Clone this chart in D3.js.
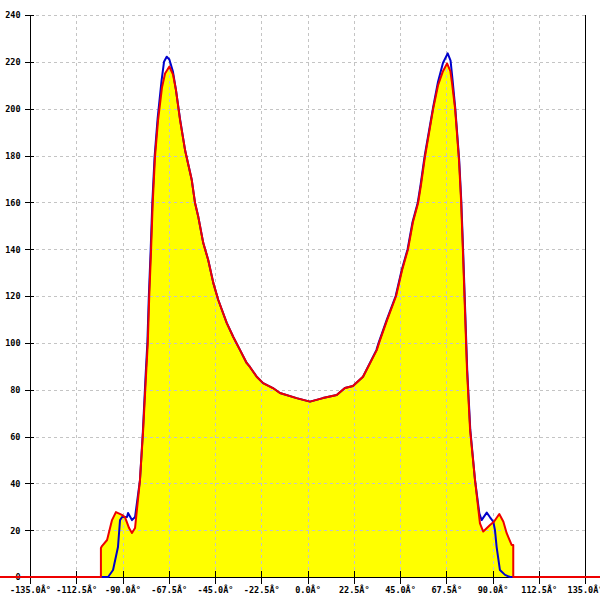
<!DOCTYPE html>
<html><head><meta charset="utf-8">
<script src="https://cdn.jsdelivr.net/npm/d3@7"></script>
<style>body{margin:0;background:#fff}svg{display:block}</style>
</head><body>
<script>
const xTickValues = [-135, -112.5, -90, -67.5, -45, -22.5, 0, 22.5, 45, 67.5, 90, 112.5, 135];
const xTickLabels = ["-135.0Â°","-112.5Â°","-90.0Â°","-67.5Â°","-45.0Â°","-22.5Â°","0.0Â°","22.5Â°","45.0Â°","67.5Â°","90.0Â°","112.5Â°","135.0Â°"];
const yTickValues = [0,20,40,60,80,100,120,140,160,180,200,220,240];

const redAngles = [-150,-100.5,-100.5,-100.0,-97.5,-95.1,-93.2,-90.3,-88.8,-86.8,-85.4,-83.9,-81.5,-80.0,-78.6,-77.7,-77.0,-76.1,-75.3,-74.2,-72.7,-70.8,-69.3,-67.2,-65.4,-64.0,-62.0,-59.5,-56.3,-54.7,-53.1,-50.7,-48.3,-45.8,-43.4,-39.3,-36.1,-32.8,-29.6,-28.0,-24.7,-21.6,-16.8,-13.4,-5.3,1.2,7.5,14.2,18.2,22.1,27.0,33.7,34.8,38.7,43.1,46.0,48.9,51.3,53.8,55.2,57.2,61.1,63.5,65.9,67.9,69.5,70.3,71.8,73.7,74.7,75.6,76.6,77.6,79.1,81.5,83.9,85.5,88.8,90.7,93.3,95.3,96.9,99.3,100.1,100.1,150];
const redValues = [0,0,12.4,13.2,15.8,24.3,27.7,26.5,25.6,20.9,18.8,20.9,41.4,62,85.4,100,119.6,139.6,159.7,179.3,195.1,209,215,218,214.5,208,195.1,182,169.5,159.7,153.7,142.6,135.4,125.5,118.3,108.5,102.5,96.9,91.4,89.7,85.5,82.8,80.7,78.6,76.4,74.9,76.4,77.7,80.7,81.6,85.5,96.9,100,109.7,120,131,140,151.6,159.7,167.4,179.8,199.8,210,216,219.3,216,211,200,178,161,139.6,114,88.4,62.8,41.4,22.9,19.4,22.2,23.6,26.9,23.6,18.7,13.7,13.7,0,0];

const blueAngles = [-150,-97.0,-94.6,-92.2,-91.2,-90.2,-87.8,-87.3,-85.4,-83.9,-81.5,-80.1,-78.8,-77.9,-77.2,-76.3,-75.5,-74.4,-72.9,-71.0,-69.8,-68.5,-67.2,-65.5,-64.0,-62.0,-59.5,-56.3,-54.7,-53.1,-50.7,-48.3,-45.8,-43.4,-39.3,-36.1,-32.8,-29.6,-28.0,-24.7,-21.6,-16.8,-13.4,-5.3,1.2,7.5,14.2,18.2,22.1,27.0,33.5,34.6,38.5,42.9,45.8,48.7,51.1,53.6,55.0,57.0,61.1,63.5,65.9,68.2,69.6,70.6,71.9,73.8,74.8,75.7,76.7,77.7,79.2,81.5,83.6,84.7,87.2,88.8,90.4,91.2,92.0,93.6,96.1,98.5,150];
const blueValues = [0,0,3,12.8,24.3,25.6,25.6,27.3,24.3,25.6,41.4,62,85.4,100,119.6,139.6,159.7,179.3,196,212,220,222.2,221,216,208,195.5,182,169.5,159.7,153.7,142.6,135.4,125.5,118.3,108.5,102.5,96.9,91.4,89.7,85.5,82.8,80.7,78.6,76.4,74.9,76.4,77.7,80.7,81.6,85.5,96.9,100,109.7,120,131,140,151.6,159.7,167.4,179.8,200.5,211.5,219.5,223.6,220.5,212,200,178,161,139.6,114,88.4,62.8,41.4,27.2,24.3,27.5,25.5,23.6,20,12.9,3,0.9,0,0];

const W = 600, H = 600;
const svg = d3.select("body").append("svg").attr("width", W).attr("height", H);
const x = d3.scaleLinear().domain([-135, 135]).range([30, 585]);
const y = d3.scaleLinear().domain([0, 240]).range([577, 15]);
const font = "'DejaVu Sans Mono', monospace";

const red = redAngles.map((a, i) => [a, redValues[i]]);
const blue = blueAngles.map((a, i) => [a, blueValues[i]]);

// area fill
svg.append("path").datum(red)
  .attr("fill", "#ffff00")
  .attr("d", d3.area().x(d => x(d[0])).y0(y(0)).y1(d => y(d[1])));

// grid
const grid = svg.append("g").attr("stroke", "#c4c4c4").attr("stroke-dasharray", "3,3").attr("stroke-width", 1);
yTickValues.filter(v => v > 0).forEach(v => {
  grid.append("line").attr("x1", 30).attr("x2", 585).attr("y1", Math.round(y(v)) + 0.5).attr("y2", Math.round(y(v)) + 0.5);
});
xTickValues.slice(1, -1).forEach(v => {
  grid.append("line").attr("y1", 15).attr("y2", 577).attr("x1", Math.round(x(v)) + 0.5).attr("x2", Math.round(x(v)) + 0.5);
});

// axes
const yAxis = d3.axisLeft(y).tickValues(yTickValues).tickSize(0).tickFormat(d => d);
const yg = svg.append("g").attr("transform", "translate(30.5,0)").call(yAxis);
yg.select(".domain").remove();
yg.selectAll("text").attr("x", -10).attr("dy", "0.35em").attr("font-family", font).attr("font-size", 8.5).attr("font-weight", "bold").attr("fill", "#000");
yTickValues.forEach(v => {
  svg.append("line").attr("x1", 25).attr("x2", 34).attr("y1", Math.round(y(v)) + 0.5).attr("y2", Math.round(y(v)) + 0.5).attr("stroke", "#000");
});
svg.append("line").attr("x1", 30.5).attr("x2", 30.5).attr("y1", 15).attr("y2", 584).attr("stroke", "#000");
svg.append("line").attr("x1", 585.5).attr("x2", 585.5).attr("y1", 15).attr("y2", 577).attr("stroke", "#000");

const xAxis = d3.axisBottom(x).tickValues(xTickValues).tickSize(0).tickFormat((d, i) => xTickLabels[i]);
const xg = svg.append("g").attr("transform", "translate(0,577)").call(xAxis);
xg.select(".domain").remove();
xg.selectAll("text").attr("y", 16).attr("dy", 0).attr("font-family", font).attr("font-size", 8.5).attr("font-weight", "bold").attr("fill", "#000");
xTickValues.forEach(v => {
  svg.append("line").attr("x1", Math.round(x(v)) + 0.5).attr("x2", Math.round(x(v)) + 0.5).attr("y1", 571).attr("y2", 584).attr("stroke", "#000");
});
svg.append("line").attr("x1", 0).attr("x2", 600).attr("y1", 577.5).attr("y2", 577.5).attr("stroke", "#000");

// lines
const line = d3.line().x(d => x(d[0])).y(d => y(d[1]));
svg.append("path").datum(blue).attr("fill", "none").attr("stroke", "#0000cc").attr("stroke-width", 2).attr("stroke-linejoin", "round").attr("d", line);
svg.append("path").datum(red).attr("fill", "none").attr("stroke", "#ee0000").attr("stroke-width", 2).attr("stroke-linejoin", "round").attr("d", line);
</script>
</body></html>
